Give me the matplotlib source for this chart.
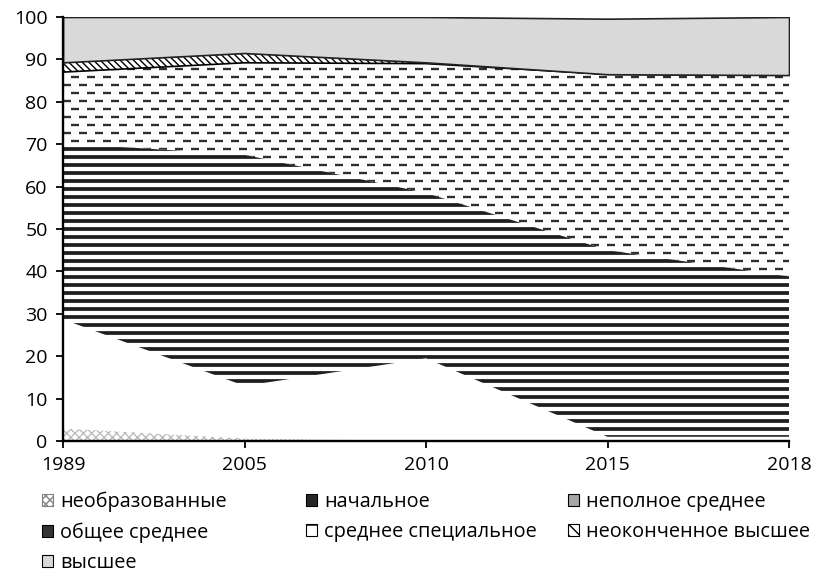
import matplotlib
matplotlib.use('Agg')
import matplotlib.pyplot as plt
import numpy as np
from matplotlib.patches import Patch
from matplotlib.collections import LineCollection

years = ['1989', '2005', '2010', '2015', '2018']
uneducated = [3.0, 0.6, 0.0, 0.0, 0.0]
primary = [8.0, 3.0, 5.0, 0.3, 0.3]
incomplete_secondary = [17.7, 9.4, 14.5, 0.7, 0.7]
general_secondary = [41.5, 54.5, 39.0, 44.0, 37.8]
special_secondary = [16.8, 21.7, 30.5, 41.5, 47.5]
incomplete_higher = [2.3, 2.3, 0.3, 0.0, 0.0]
higher = [10.7, 8.5, 10.7, 13.1, 13.7]

labels = ['необразованные', 'начальное', 'неполное среднее', 'общее среднее',
          'среднее специальное', 'неоконченное высшее', 'высшее']
yticks = list(range(0, 101, 10))

plt.rcParams['font.family'] = ['Open Sans', 'DejaVu Sans']
plt.rcParams['hatch.linewidth'] = 1.0
plt.rcParams['lines.scale_dashes'] = False

W, H = 814, 575
fig = plt.figure(figsize=(W / 100, H / 100), dpi=100)
ax_l, ax_r, ax_t, ax_b = 63, 789, 17, 441
ax = fig.add_axes([ax_l / W, 1 - ax_b / H, (ax_r - ax_l) / W, (ax_b - ax_t) / H])

x = np.arange(len(years))
series = [uneducated, primary, incomplete_secondary, general_secondary,
          special_secondary, incomplete_higher, higher]
polys = ax.stackplot(x, *series, colors=['white'] * 7, linewidth=0)

ax.set_xlim(0, len(years) - 1)
ax.set_ylim(0, 100)

# styles
polys[0].set_hatch('xxxx')
polys[0].set_edgecolor('#bdbdbd')
polys[0].set_linewidth(0)
polys[5].set_hatch('\\\\\\\\\\')
polys[5].set_edgecolor('black')
polys[5].set_linewidth(1.2)
polys[5].set_zorder(2.2)
polys[6].set_facecolor('#d9d9d9')
polys[6].set_edgecolor('#222222')
polys[6].set_linewidth(1.2)
polys[6].set_zorder(2.2)

px_per_unit = (ax_b - ax_t) / 100.0
step = 8.0 / px_per_unit

# horizontal stripes for "общее среднее"
ys = np.arange(step / 2, 100, step)
segs = [[(0, y), (len(years) - 1, y)] for y in ys]
lc = LineCollection(segs, colors='#1e1e1e', linewidths=2.7, zorder=2)
ax.add_collection(lc)
lc.set_clip_path(polys[3].get_paths()[0], ax.transData)

# dashed lines for "среднее специальное"
d = 5.76
ys2 = np.arange(step / 2, 100, step)
segs2 = [[(0, y), (len(years) - 1, y)] for y in ys2]
styles = [(0, (d, d)) if i % 2 == 0 else (d, (d, d)) for i in range(len(ys2))]
lc2 = LineCollection(segs2, colors='#2e2e2e', linewidths=1.7, linestyles=styles,
                     zorder=2, capstyle='butt')
ax.add_collection(lc2)
lc2.set_clip_path(polys[4].get_paths()[0], ax.transData)

ax.set_xticks(x)
ax.set_xticklabels(years)
ax.set_yticks(yticks)
for s in ['top', 'right']:
    ax.spines[s].set_visible(False)
for s in ['left', 'bottom']:
    ax.spines[s].set_linewidth(1.7)
    ax.spines[s].set_color('black')
    ax.spines[s].set_zorder(3)
ax.tick_params(axis='both', direction='out', length=5, width=1.3,
               labelsize=14, colors='black')
ax.tick_params(axis='y', pad=6)
ax.tick_params(axis='x', pad=6)

# legend handles
h_unedu = Patch(facecolor='white', edgecolor='#808080', hatch='xxxx', linewidth=0.8)
h_prim = Patch(facecolor='#262626', edgecolor='black', linewidth=0.8)
h_incs = Patch(facecolor='#a6a6a6', edgecolor='black', linewidth=0.8)
h_gen = Patch(facecolor='#333333', edgecolor='black', hatch='-', linewidth=0.8)
h_spec = Patch(facecolor='white', edgecolor='black', hatch='-', linewidth=0.8)
h_inch = Patch(facecolor='white', edgecolor='black', hatch='\\\\\\', linewidth=0.8)
h_high = Patch(facecolor='#d9d9d9', edgecolor='black', linewidth=0.8)

cols = [
    ([h_unedu, h_gen, h_high], [labels[0], labels[3], labels[6]], 42),
    ([h_prim, h_spec], [labels[1], labels[4]], 306),
    ([h_incs, h_inch], [labels[2], labels[5]], 568),
]
for hs, ls, xl in cols:
    fig.legend(hs, ls, loc='upper left', bbox_to_anchor=(xl / W, 1 - 492 / H),
               frameon=False, fontsize=14.3, borderpad=0, borderaxespad=0,
               handlelength=0.55, handleheight=0.55, handletextpad=0.35,
               labelspacing=0.5)

fig.savefig('out.png', dpi=100)
